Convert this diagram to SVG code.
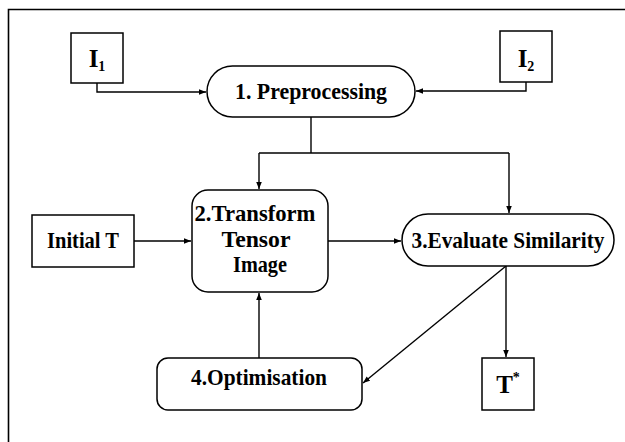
<svg xmlns="http://www.w3.org/2000/svg" width="625" height="442" viewBox="0 0 625 442">
<style>
.box{fill:#fff;stroke:#000;stroke-width:1.5}
.ln{fill:none;stroke:#000;stroke-width:1.4}
.t{font-family:"Liberation Serif","DejaVu Serif","Times New Roman",serif;font-weight:bold;font-size:22.5px;fill:#000;text-anchor:middle}
.big{font-size:25px}
.sub{font-size:14px}
</style>
<defs>
<marker id="ah" viewBox="0 0 10 10" refX="10" refY="5" markerWidth="7" markerHeight="7" markerUnits="userSpaceOnUse" orient="auto">
<path d="M0,1 L10,5 L0,9 Z" fill="#000"/>
</marker>
</defs>
<rect width="625" height="442" fill="#fff"/>
<path d="M8.5,442 V9.5 H625" fill="none" stroke="#000" stroke-width="1.6"/>
<g id="connectors">
<path class="ln" d="M97,83 V92 H206" marker-end="url(#ah)"/>
<path class="ln" d="M526,82 V91 H416" marker-end="url(#ah)"/>
<path class="ln" d="M311,117 V153"/>
<path class="ln" d="M259,153 H509"/>
<path class="ln" d="M259,153 V189" marker-end="url(#ah)"/>
<path class="ln" d="M509,153 V213" marker-end="url(#ah)"/>
<path class="ln" d="M134,241 H191" marker-end="url(#ah)"/>
<path class="ln" d="M328,241 H401" marker-end="url(#ah)"/>
<path class="ln" d="M506,266 V357" marker-end="url(#ah)"/>
<path class="ln" d="M506,266 L363,383" marker-end="url(#ah)"/>
<path class="ln" d="M259,358 V293" marker-end="url(#ah)"/>
</g>
<g id="I1">
<rect class="box" x="71" y="33" width="52" height="50"/>
<text class="t big" x="97" y="67">I<tspan class="sub" dy="4">1</tspan></text>
</g>
<g id="I2">
<rect class="box" x="500" y="31" width="52" height="51"/>
<text class="t big" x="526" y="67">I<tspan class="sub" dy="4">2</tspan></text>
</g>
<g id="preprocessing">
<rect class="box" x="207" y="66" width="208" height="51" rx="25.5"/>
<text class="t" x="311" y="99" textLength="152" lengthAdjust="spacingAndGlyphs">1. Preprocessing</text>
</g>
<g id="initialT">
<rect class="box" x="32" y="215" width="102" height="52"/>
<text class="t" x="83" y="248" textLength="72" lengthAdjust="spacingAndGlyphs">Initial T</text>
</g>
<g id="transform">
<rect class="box" x="192" y="190" width="136" height="102" rx="16"/>
<text class="t" x="255" y="221" textLength="121" lengthAdjust="spacingAndGlyphs">2.Transform</text>
<text class="t" x="256" y="247" textLength="69" lengthAdjust="spacingAndGlyphs">Tensor</text>
<text class="t" x="260" y="272" textLength="54" lengthAdjust="spacingAndGlyphs">Image</text>
</g>
<g id="evaluate">
<rect class="box" x="402" y="214" width="212" height="52" rx="26"/>
<text class="t" x="508" y="248" textLength="193" lengthAdjust="spacingAndGlyphs">3.Evaluate Similarity</text>
</g>
<g id="optimisation">
<rect class="box" x="157" y="358" width="205" height="52" rx="11"/>
<text class="t" x="259" y="385" textLength="136" lengthAdjust="spacingAndGlyphs">4.Optimisation</text>
</g>
<g id="Tstar">
<rect class="box" x="482" y="358" width="52" height="52"/>
<text class="t big" x="508" y="393">T<tspan class="sub" dy="-11">*</tspan></text>
</g>
</svg>
